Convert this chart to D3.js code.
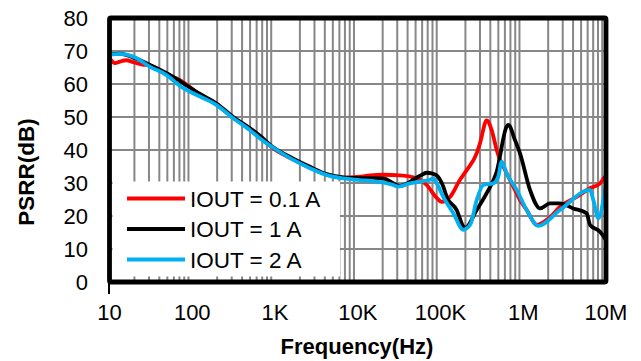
<!DOCTYPE html>
<html><head><meta charset="utf-8">
<script src="https://cdn.jsdelivr.net/npm/d3@7"></script>
<style>body{margin:0;background:#fff}svg{display:block}text{font-family:"Liberation Sans",Arial,sans-serif}</style>
</head><body><svg id="c" width="641" height="361"></svg>
<script>
const xTicks = [10, 100, 1e3, 1e4, 1e5, 1e6, 1e7];
const xTickLabels = ["10", "100", "1K", "10K", "100K", "1M", "10M"];
const yTicks = [0, 10, 20, 30, 40, 50, 60, 70, 80];
const seriesNames = ["IOUT = 0.1 A", "IOUT = 1 A", "IOUT = 2 A"];
const seriesColors = ["#ff0000", "#000000", "#00b0f0"];

const red = [[10,67.8],[11.7,66.3],[13.4,66.8],[16,67.2],[19.4,66.6],[25,65.9],[30.9,65.6],[49,63],[71,61.2],[124,56.8],[197,53.8],[313,49.8],[499,46.3],[659,43.8],[953,40.5],[1664,37.1],[2650,34.6],[4217,32.5],[6686,31.6],[10640,31.9],[14060,32.3],[20370,32.5],[32430,32.3],[46900,31.7],[56500,31],[68100,29.4],[89950,25.5],[103300,24.3],[130300,25.8],[172200,31],[207300,33.9],[273600,39],[300000,42],[361400,49],[415500,46],[477500,40],[523600,37],[574000,35],[758000,28.9],[914000,24.8],[1.101e6,21.8],[1.455e6,17.3],[2.1e6,19.6],[2.777e6,22.8],[4.42e6,25.8],[6.41e6,28.4],[8.47e6,29.9],[9.72e6,31.9],[1e7,32.2]];
const black = [[10,69],[13.4,69.2],[19.4,68],[30.9,65.8],[49,63.3],[71,60.9],[124,57],[197,54.1],[313,50],[499,46.6],[659,44.3],[953,40.8],[1664,37.4],[2650,34.9],[4217,32.7],[6686,31.7],[10640,31.5],[20370,31.4],[26900,29.9],[32430,29.1],[56500,32.2],[68100,33.1],[78300,32.9],[89950,32.3],[108100,28.9],[118800,25.8],[157000,21.8],[188800,16.8],[197800,16.4],[273600,21.8],[361400,26.9],[477500,33.4],[630600,47.1],[659200,47.6],[794700,43],[914000,39],[1.207e6,27.9],[1.594e6,22.3],[2.103e6,23.8],[2.777e6,23.8],[4.024e6,22.3],[5.84e6,20.8],[6.41e6,17.3],[8.47e6,15.2],[1e7,12.7]];
const blue = [[10,68.8],[13.4,69.1],[19.4,68.3],[30.9,65.2],[49,62.7],[71,59.4],[124,56.2],[197,53.6],[313,49.6],[499,46],[659,43.5],[1050,40],[1664,37],[2650,34.5],[4217,32.4],[6686,31.4],[10640,30.9],[16940,30.4],[26900,29.4],[30900,28.9],[42760,29.9],[56500,30.4],[74650,31],[81900,31.4],[89950,29.9],[108100,25.8],[142900,20.8],[188800,15.8],[207300,16.3],[233000,17.8],[273600,24.8],[330000,29.4],[434500,29.9],[499000,31.9],[549000,36.5],[630600,32.9],[833000,27.9],[1.101e6,21.8],[1.521e6,17],[2.777e6,21.8],[6.41e6,27.9],[7.03e6,24.8],[8.08e6,19.3],[9.27e6,24.8],[1e7,30.4]];
const allSeries = [red, black, blue];

const svg = d3.select("#c");
const L = 109.5, R = 606, T = 18, B = 282;
const x = d3.scaleLog().domain([10, 1e7]).range([L, R]);
const y = d3.scaleLinear().domain([0, 80]).range([B, T]);

// grid
const minor = [];
for (let d = 10; d < 1e7; d *= 10) for (let k = 2; k <= 9; k++) minor.push(d * k);
const grid = svg.append("g").attr("stroke", "#878787").attr("stroke-width", 2);
grid.selectAll("line.v").data(minor).join("line").attr("class","v")
  .attr("x1", d => x(d)).attr("x2", d => x(d)).attr("y1", T).attr("y2", B);
grid.selectAll("line.h").data(yTicks.slice(1, -1)).join("line").attr("class","h")
  .attr("x1", L).attr("x2", R).attr("y1", d => y(d)).attr("y2", d => y(d));

// legend background
svg.append("rect").attr("x", 112.5).attr("y", 181.5).attr("width", 227.5).attr("height", 95).attr("fill", "#fff");

// series
const line = d3.line().x(d => x(d[0])).y(d => y(d[1])).curve(d3.curveMonotoneX);
allSeries.forEach((s, i) => {
  svg.append("path").datum(s).attr("d", line).attr("fill", "none")
    .attr("stroke", seriesColors[i]).attr("stroke-width", 3.8).attr("stroke-linejoin", "round");
});

// frame
svg.append("rect").attr("x", L).attr("y", T).attr("width", R - L).attr("height", B - T)
  .attr("fill", "none").attr("stroke", "#000").attr("stroke-width", 4.8).attr("rx", 1.5);
svg.append("line").attr("x1", L - 0.5).attr("x2", L - 0.5).attr("y1", B).attr("y2", 294).attr("stroke", "#000").attr("stroke-width", 2);

// y axis labels
svg.append("g").selectAll("text").data(yTicks).join("text")
  .attr("x", 88).attr("y", d => y(d)).attr("dy", "0.35em").attr("text-anchor", "end")
  .attr("font-size", 22).attr("fill", "#000").text(d => d);

// x axis labels
svg.append("g").selectAll("text").data(xTicks).join("text")
  .attr("x", d => x(d)).attr("y", 312).attr("dy", "0.35em").attr("text-anchor", "middle")
  .attr("font-size", 22).attr("fill", "#000").text((d, i) => xTickLabels[i]);

// titles
svg.append("text").attr("x", 357).attr("y", 346).attr("dy", "0.35em").attr("text-anchor", "middle")
  .attr("font-size", 22).attr("font-weight", "bold").text("Frequency(Hz)");
svg.append("text").attr("transform", "translate(26,172) rotate(-90)").attr("dy", "0.35em")
  .attr("text-anchor", "middle").attr("font-size", 22.5).attr("font-weight", "bold").text("PSRR(dB)");

// legend
const ly = [198.5, 229, 259.5];
seriesNames.forEach((n, i) => {
  svg.append("line").attr("x1", 127).attr("x2", 185).attr("y1", ly[i]).attr("y2", ly[i])
    .attr("stroke", seriesColors[i]).attr("stroke-width", 4.2);
  svg.append("text").attr("x", 190).attr("y", ly[i]).attr("dy", "0.36em")
    .attr("font-size", 22.5).attr("fill", "#000").text(n);
});
</script></body></html>
